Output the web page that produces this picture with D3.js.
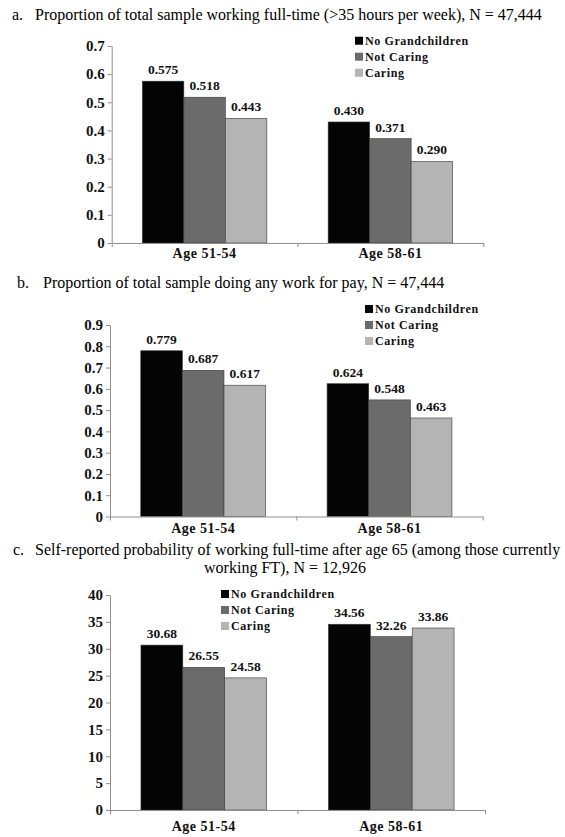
<!DOCTYPE html>
<html>
<head>
<meta charset="utf-8">
<script src="https://cdn.jsdelivr.net/npm/d3@7"></script>
<style>
  body { margin: 0; background: #fff; }
  text { font-family: 'Liberation Serif', 'Times New Roman', serif; }
</style>
</head>
<body>
<div id="chart-container"></div>
<script>
const width = 565
const height = 837

const ageGroups = ['Age 51-54', 'Age 58-61']
const seriesNames = ['No Grandchildren', 'Not Caring', 'Caring']
const seriesColors = ['#040404', '#6b6b6b', '#b4b4b4']

const fullTimeValues = [[0.575, 0.518, 0.443], [0.430, 0.371, 0.290]]
const fullTimeLabels = [['0.575', '0.518', '0.443'], ['0.430', '0.371', '0.290']]
const fullTimeTicks = [0, 0.1, 0.2, 0.3, 0.4, 0.5, 0.6, 0.7]

const anyWorkValues = [[0.779, 0.687, 0.617], [0.624, 0.548, 0.463]]
const anyWorkLabels = [['0.779', '0.687', '0.617'], ['0.624', '0.548', '0.463']]
const anyWorkTicks = [0, 0.1, 0.2, 0.3, 0.4, 0.5, 0.6, 0.7, 0.8, 0.9]

const probValues = [[30.68, 26.55, 24.58], [34.56, 32.26, 33.86]]
const probLabels = [['30.68', '26.55', '24.58'], ['34.56', '32.26', '33.86']]
const probTicks = [0, 5, 10, 15, 20, 25, 30, 35, 40]

const panels = [
  {
    letter: 'a.', letterX: 12, textX: 35, titleY: 20,
    title: ['Proportion of total sample working full-time (>35 hours per week), N = 47,444'],
    values: fullTimeValues, labels: fullTimeLabels, ticks: fullTimeTicks,
    left: 111.7, right: 483.3, top: 46, bottom: 243, catY: 258,
    legend: { x: 355, y: 40.7 }
  },
  {
    letter: 'b.', letterX: 17, textX: 43, titleY: 288,
    title: ['Proportion of total sample doing any work for pay, N = 47,444'],
    values: anyWorkValues, labels: anyWorkLabels, ticks: anyWorkTicks,
    left: 110, right: 482.7, top: 325, bottom: 516.5, catY: 533,
    legend: { x: 365, y: 309 }
  },
  {
    letter: 'c.', letterX: 13, textX: 35, titleY: 555,
    title: ['Self-reported probability of working full-time after age 65 (among those currently',
            'working FT), N = 12,926'],
    values: probValues, labels: probLabels, ticks: probTicks,
    left: 110, right: 485, top: 595, bottom: 810, catY: 831,
    legend: { x: 221, y: 594 }
  }
]

const svg = d3.select('#chart-container')
  .append('svg')
  .attr('width', width)
  .attr('height', height)

const drawPanel = p => {
  const g = svg.append('g')

  // title
  g.append('text')
    .attr('x', p.letterX).attr('y', p.titleY)
    .attr('font-size', 16)
    .text(p.letter)
  g.append('text')
    .attr('x', p.textX).attr('y', p.titleY)
    .attr('font-size', 16)
    .text(p.title[0])
  if (p.title[1]) {
    g.append('text')
      .attr('x', 285).attr('y', p.titleY + 18)
      .attr('text-anchor', 'middle')
      .attr('font-size', 16)
      .text(p.title[1])
  }

  const yScale = d3.scaleLinear()
    .domain([0, d3.max(p.ticks)])
    .range([p.bottom, p.top])

  const xScale = d3.scaleBand()
    .domain(ageGroups)
    .range([p.left, p.right])
    .paddingInner(0.33)
    .paddingOuter(0.165)

  const xSub = d3.scaleBand()
    .domain(seriesNames)
    .range([0, xScale.bandwidth()])

  const edgeScale = d3.scaleLinear().domain([0, ageGroups.length]).range([p.left, p.right])

  // y axis
  const yAxis = g.append('g')
    .attr('transform', `translate(${p.left},0)`)
    .call(d3.axisLeft(yScale).tickValues(p.ticks).tickFormat(d => d3.format('')(+d.toFixed(2))).tickSize(4).tickSizeOuter(0).tickPadding(3))
  yAxis.select('.domain').attr('stroke', '#8f8f8f')
  yAxis.selectAll('line').attr('stroke', '#8f8f8f')
  yAxis.selectAll('text')
    .attr('font-size', 15).attr('font-weight', 'bold').attr('fill', '#111')
    .style('font-family', "'Liberation Serif', serif")

  // bars
  const groups = g.selectAll('.group')
    .data(ageGroups)
    .enter()
    .append('g')
    .attr('transform', d => `translate(${xScale(d)},0)`)

  groups.each(function (age, i) {
    const grp = d3.select(this)
    const rows = seriesNames.map((name, j) => ({ name, value: p.values[i][j], label: p.labels[i][j], color: seriesColors[j] }))

    grp.selectAll('rect')
      .data(rows)
      .enter()
      .append('rect')
      .attr('x', d => xSub(d.name))
      .attr('y', d => yScale(d.value))
      .attr('width', xSub.bandwidth())
      .attr('height', d => yScale(0) - yScale(d.value))
      .attr('fill', d => d.color)
      .attr('stroke', '#3a3a3a')
      .attr('stroke-width', 0.6)

    grp.selectAll('.val')
      .data(rows)
      .enter()
      .append('text')
      .attr('x', d => xSub(d.name) + xSub.bandwidth() / 2)
      .attr('y', d => yScale(d.value) - 7)
      .attr('text-anchor', 'middle')
      .attr('font-size', 13.5)
      .attr('font-weight', 'bold')
      .attr('fill', '#111')
      .text(d => d.label)
  })

  // x axis
  const xAxis = g.append('g')
    .attr('transform', `translate(0,${p.bottom})`)
    .call(d3.axisBottom(edgeScale).tickValues([0, 1, 2]).tickFormat('').tickSize(4).tickSizeOuter(0))
  xAxis.select('.domain').attr('stroke', '#8f8f8f')
  xAxis.selectAll('line').attr('stroke', '#8f8f8f')

  g.selectAll('.cat')
    .data(ageGroups)
    .enter()
    .append('text')
    .attr('x', d => xScale(d) + xScale.bandwidth() / 2)
    .attr('y', p.catY)
    .attr('text-anchor', 'middle')
    .attr('font-size', 14)
    .attr('font-weight', 'bold')
    .attr('letter-spacing', 0.5)
    .attr('fill', '#111')
    .text(d => d)

  // legend
  const legend = g.append('g').attr('transform', `translate(${p.legend.x},${p.legend.y})`)
  seriesNames.forEach((name, j) => {
    legend.append('rect')
      .attr('x', 0).attr('y', j * 16 - 4)
      .attr('width', 8).attr('height', 8)
      .attr('fill', seriesColors[j])
    legend.append('text')
      .attr('x', 10).attr('y', j * 16 + 4)
      .attr('font-size', 12)
      .attr('font-weight', 'bold')
      .attr('letter-spacing', 0.6)
      .attr('fill', '#111')
      .text(name)
  })
}

panels.forEach(drawPanel)
</script>
</body>
</html>
